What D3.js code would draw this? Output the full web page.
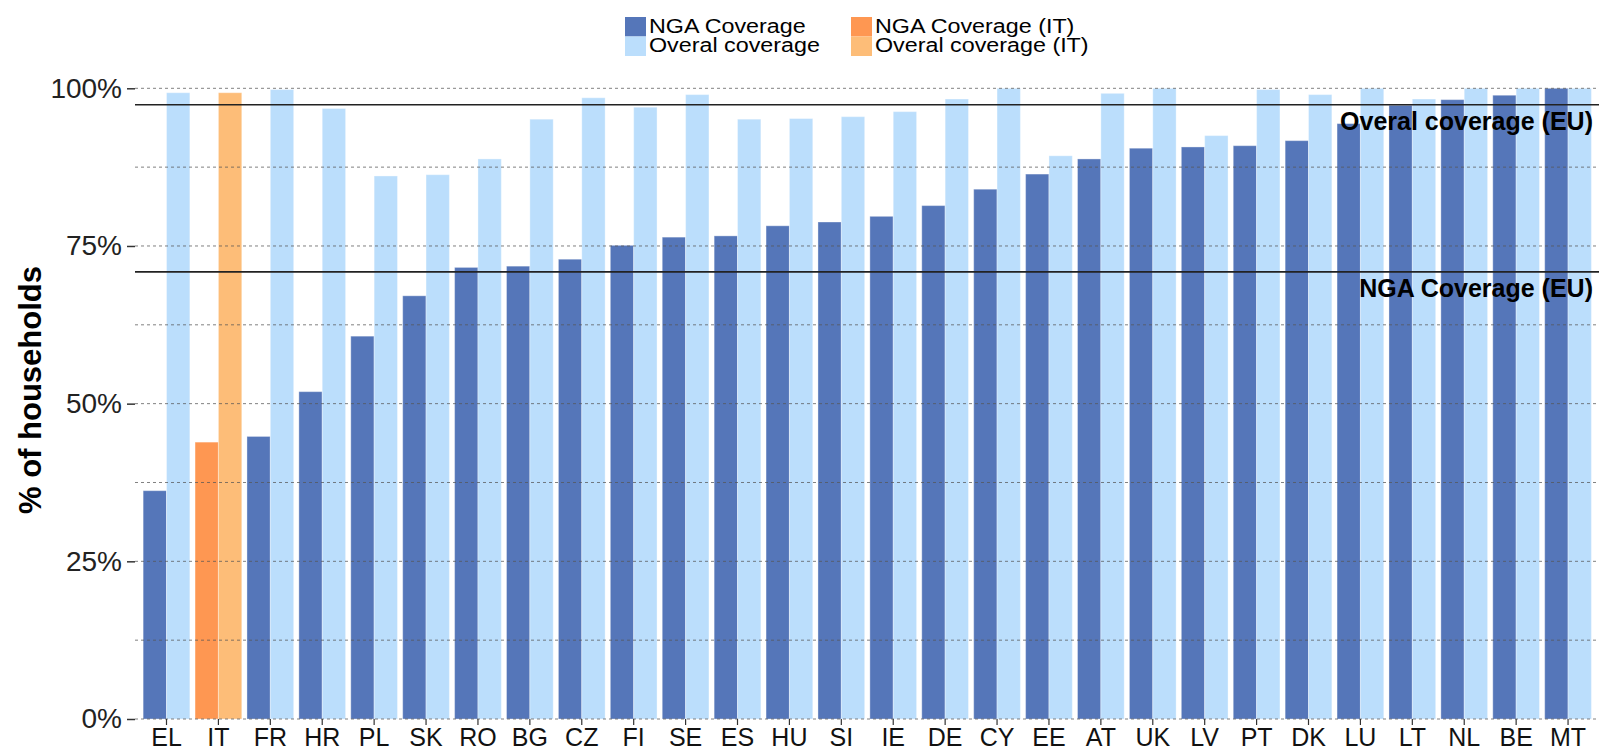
<!DOCTYPE html>
<html>
<head>
<meta charset="utf-8">
<script src="https://cdn.jsdelivr.net/npm/d3@7"></script>
<style>
  body { margin: 0; background: #fff; }
  svg { display: block; font-family: "Liberation Sans", Arial, sans-serif; }
</style>
</head>
<body>
<div id="chart"></div>
<script>
// Data
const countries = ["EL","IT","FR","HR","PL","SK","RO","BG","CZ","FI","SE","ES","HU","SI",
                   "IE","DE","CY","EE","AT","UK","LV","PT","DK","LU","LT","NL","BE","MT"];
const ngaCoverage = [36.2,43.9,44.8,51.9,60.7,67.1,71.6,71.8,72.9,75.1,76.4,76.6,78.2,78.8,
                     79.7,81.4,84.0,86.4,88.8,90.5,90.7,90.9,91.7,94.4,97.3,98.2,98.9,100];
const overallCoverage = [99.3,99.3,99.8,96.8,86.1,86.3,88.8,95.1,98.5,97.0,99.0,95.1,95.2,95.5,
                         96.3,98.3,100,89.3,99.2,100,92.5,99.8,99.0,100,98.3,100,100,100];
const highlight = "IT";
const euOverall = 97.4;
const euNga = 70.9;
const yTicks = [0, 25, 50, 75, 100];
const yGrid = [0, 12.5, 25, 37.5, 50, 62.5, 75, 87.5, 100];

const colors = {
  nga: "#5576b9", overall: "#bbdefc",
  ngaIT: "#fe9752", overallIT: "#fdbd78"
};

const W = 1599, H = 753;
const plotLeft = 135, plotRight = 1599;
const yTop = 88.3, yBottom = 719;

const svg = d3.select("#chart").append("svg")
    .attr("width", W)
    .attr("height", H);

const x = d3.scaleBand()
    .domain(countries)
    .range([137.95, 1596.6])
    .paddingInner(0.1)
    .paddingOuter(0.1);

const xSub = d3.scaleBand()
    .domain(["nga", "overall"])
    .range([0, x.bandwidth()]);

const y = d3.scaleLinear()
    .domain([0, 100])
    .range([yBottom, yTop]);

const data = countries.map((c, i) => ({
  country: c,
  nga: ngaCoverage[i],
  overall: overallCoverage[i]
}));

// Bars
const groups = svg.append("g").selectAll("g")
  .data(data)
  .join("g")
    .attr("transform", d => `translate(${x(d.country)},0)`);

groups.selectAll("rect")
  .data(d => ["nga", "overall"].map(k => ({key: k, value: d[k], country: d.country})))
  .join("rect")
    .attr("x", d => xSub(d.key))
    .attr("y", d => y(d.value))
    .attr("width", xSub.bandwidth())
    .attr("height", d => yBottom - y(d.value))
    .attr("fill", d => d.country === highlight ? colors[d.key + "IT"] : colors[d.key])
    .attr("stroke", "#fff")
    .attr("stroke-opacity", 0.35)
    .attr("stroke-width", 1);

// Dotted grid, drawn on top of the bars
svg.append("g").selectAll("line")
  .data(yGrid)
  .join("line")
    .attr("x1", plotLeft)
    .attr("x2", plotRight)
    .attr("y1", d => y(d))
    .attr("y2", d => y(d))
    .attr("stroke", "#555")
    .attr("stroke-opacity", 0.75)
    .attr("stroke-width", 1)
    .attr("stroke-dasharray", "3,3");

// Y axis (ticks and labels only, no domain line)
const yAxis = svg.append("g")
    .attr("transform", `translate(${plotLeft},0)`)
    .call(d3.axisLeft(y).tickValues(yTicks).tickFormat(d => d + "%").tickSize(8).tickPadding(5));
yAxis.select(".domain").remove();
yAxis.selectAll(".tick line").attr("stroke", "#333").attr("stroke-width", 1.5);
yAxis.selectAll("text")
    .attr("font-size", 28)
    .attr("fill", "#222");

// X axis
const xAxis = svg.append("g")
    .attr("transform", `translate(0,${yBottom})`)
    .call(d3.axisBottom(x).tickSize(6).tickPadding(3));
xAxis.select(".domain").remove();
xAxis.selectAll(".tick line").attr("stroke", "#333").attr("stroke-width", 1.2);
xAxis.selectAll("text")
    .attr("font-size", 25)
    .attr("fill", "#111");

// EU reference lines
const refs = [
  {value: euOverall, label: "Overal coverage (EU)"},
  {value: euNga, label: "NGA Coverage (EU)"}
];
svg.append("g").selectAll("line")
  .data(refs)
  .join("line")
    .attr("x1", plotLeft)
    .attr("x2", plotRight)
    .attr("y1", d => y(d.value))
    .attr("y2", d => y(d.value))
    .attr("stroke", "#222")
    .attr("stroke-width", 1.6);
svg.append("g").selectAll("text")
  .data(refs)
  .join("text")
    .attr("x", 1593)
    .attr("y", d => y(d.value) + 25)
    .attr("text-anchor", "end")
    .attr("font-size", 25)
    .attr("font-weight", "bold")
    .attr("fill", "#000")
    .text(d => d.label);

// Y-axis title
svg.append("text")
    .attr("transform", `translate(41,${390}) rotate(-90)`)
    .attr("text-anchor", "middle")
    .attr("font-size", 31)
    .attr("font-weight", "bold")
    .attr("fill", "#000")
    .text("% of households");

// Legend
const legendItems = [
  {label: "NGA Coverage", color: colors.nga, col: 0, row: 0},
  {label: "Overal coverage", color: colors.overall, col: 0, row: 1},
  {label: "NGA Coverage (IT)", color: colors.ngaIT, col: 1, row: 0},
  {label: "Overal coverage (IT)", color: colors.overallIT, col: 1, row: 1}
];
const legend = svg.append("g");
const li = legend.selectAll("g")
  .data(legendItems)
  .join("g")
    .attr("transform", d => `translate(${d.col === 0 ? 625 : 851},${17 + d.row * 19.5})`);
li.append("rect")
    .attr("width", 21)
    .attr("height", 19.5)
    .attr("fill", d => d.color);
li.append("text")
    .attr("transform", "translate(24,15.5) scale(1.11,1)")
    .attr("font-size", 21)
    .attr("fill", "#000")
    .text(d => d.label);
</script>
</body>
</html>
